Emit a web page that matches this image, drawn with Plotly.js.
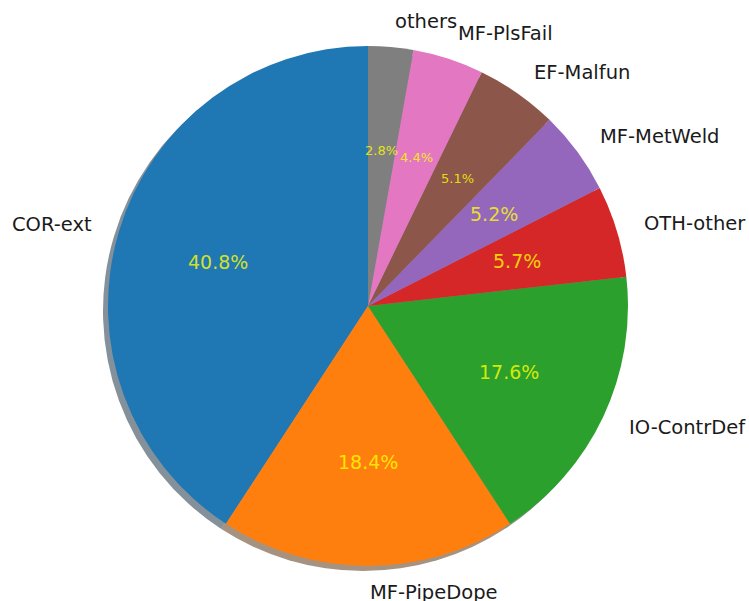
<!DOCTYPE html>
<html>
<head>
<meta charset="utf-8">
<script src="https://cdn.plot.ly/plotly-3.0.1.min.js"></script>
<style>html,body{margin:0;padding:0;background:#fff;}#chart{width:749px;height:601px;}</style>
</head>
<body>
<div id="chart"></div>
<script>
const labels = ["COR-ext", "MF-PipeDope", "IO-ContrDef", "OTH-other", "MF-MetWeld", "EF-Malfun", "MF-PlsFail", "others"];
const values = [40.8, 18.4, 17.6, 5.7, 5.2, 5.1, 4.4, 2.8];
const colors = ["#1f77b4", "#ff7f0e", "#2ca02c", "#d62728", "#9467bd", "#8c564b", "#e377c2", "#7f7f7f"];

const W = 749, H = 601;
const cx = 368, cy = 306, R = 260;
const shadowOff = 5;

function hexToRgb(h) {
  return [parseInt(h.slice(1,3),16), parseInt(h.slice(3,5),16), parseInt(h.slice(5,7),16)];
}
const shadowColors = colors.map(c => {
  const [r,g,b] = hexToRgb(c);
  return `rgba(${Math.round(r*0.3)},${Math.round(g*0.3)},${Math.round(b*0.3)},0.5)`;
});

function dom(x0, y0) {
  return {
    x: [(x0 - R) / W, (x0 + R) / W],
    y: [1 - (y0 + R) / H, 1 - (y0 - R) / H]
  };
}

const total = values.reduce((a,b)=>a+b, 0);
// Plotly's counterclockwise pie ends the first slice at the rotation angle;
// rotate so the first slice starts at 12 o'clock like matplotlib startangle=90.
const rot = -360 * values[0] / total;

const shadow = {
  type: 'pie', labels: labels, values: values, sort: false,
  direction: 'counterclockwise', rotation: rot,
  marker: {colors: shadowColors, line: {width: 0}},
  textinfo: 'none', hoverinfo: 'skip', showlegend: false,
  domain: dom(cx - shadowOff, cy + shadowOff)
};
const pie = {
  type: 'pie', labels: labels, values: values, sort: false,
  direction: 'counterclockwise', rotation: rot,
  marker: {colors: colors, line: {width: 0}},
  textinfo: 'none', hoverinfo: 'label+percent', showlegend: false,
  domain: dom(cx, cy)
};

const annotations = [];
let cum = 0;
values.forEach((v, i) => {
  const th = (90 + 360 * (cum + v/2) / total) * Math.PI / 180;
  cum += v;
  const c = Math.cos(th);
  const lx = cx + 1.1 * R * c, ly = cy - 1.1 * R * Math.sin(th);
  annotations.push({
    xref: 'paper', yref: 'paper', x: lx / W, y: 1 - ly / H,
    text: labels[i], showarrow: false,
    xanchor: c > -1e-9 ? 'left' : 'right', yanchor: 'middle',
    font: {family: 'DejaVu Sans', size: 19.5, color: '#1a1a1a'}
  });
  const px = cx + 0.6 * R * c, py = cy - 0.6 * R * Math.sin(th);
  const small = v < 5.15;
  annotations.push({
    xref: 'paper', yref: 'paper', x: px / W, y: 1 - py / H,
    text: v.toFixed(1) + '%', showarrow: false,
    xanchor: 'center', yanchor: 'middle',
    font: {family: 'DejaVu Sans', size: small ? 13 : 19, color: 'rgba(255,255,0,0.8)'}
  });
});

const layout = {
  width: W, height: H,
  margin: {l: 0, r: 0, t: 0, b: 0},
  paper_bgcolor: '#ffffff',
  showlegend: false,
  annotations: annotations
};

Plotly.newPlot('chart', [shadow, pie], layout, {displayModeBar: false, staticPlot: true});
</script>
</body>
</html>
